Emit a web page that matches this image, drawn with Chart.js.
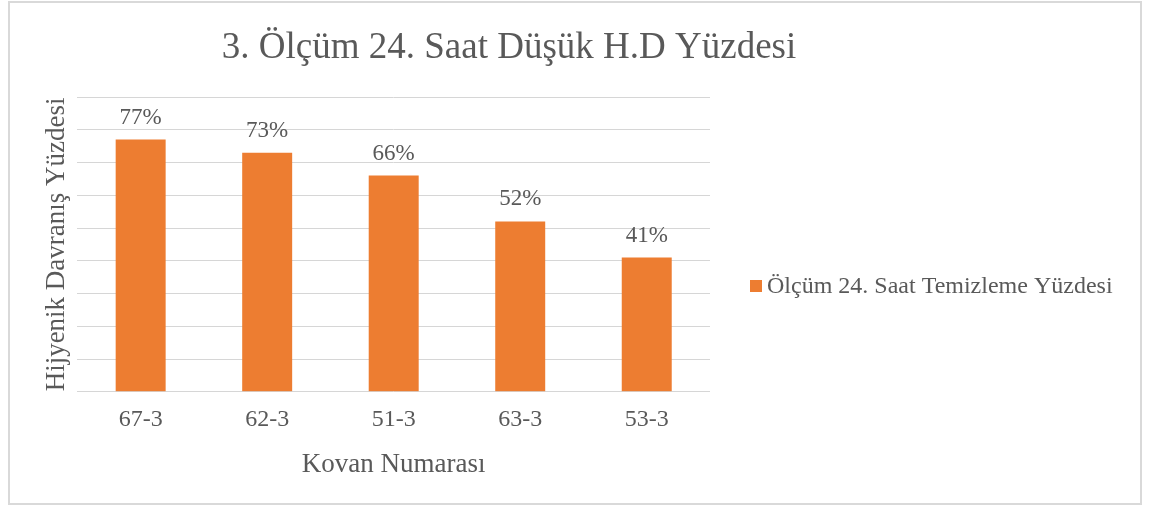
<!DOCTYPE html>
<html>
<head>
<meta charset="utf-8">
<title>3. Ölçüm 24. Saat Düşük H.D Yüzdesi</title>
<script src="https://cdn.jsdelivr.net/npm/chart.js@4/dist/chart.umd.min.js"></script>
<style>
  html, body { margin: 0; padding: 0; background: #fff; }
  #wrap { position: relative; width: 1154px; height: 506px; }
  #frame {
    position: absolute; left: 8px; top: 1px; width: 1130px; height: 500px;
    border: 2px solid #d9d9d9; pointer-events: none;
  }
</style>
</head>
<body>
<div id="wrap">
  <canvas id="chart" width="1154" height="506"></canvas>
  <div id="frame"></div>
</div>
<script>
// Chart data
const chartTitle = '3. Ölçüm 24. Saat Düşük H.D Yüzdesi';
const seriesName = 'Ölçüm 24. Saat Temizleme Yüzdesi';
const hives = ['67-3', '62-3', '51-3', '63-3', '53-3'];
const cleaningPct = [77, 73, 66, 52, 41];
const xTitle = 'Kovan Numarası';
const yTitle = 'Hijyenik Davranış Yüzdesi';

const barColor = '#ED7D31';
const textColor = '#595959';
const gridColor = '#d6d6d6';
const fontFamily = '"Liberation Serif", "Times New Roman", serif';

// Draws the title, the data labels and the legend on the right
const extrasPlugin = {
  id: 'extras',
  afterDatasetsDraw(chart) {
    const ctx = chart.ctx;
    ctx.save();
    ctx.fillStyle = textColor;

    // title
    ctx.font = '37px ' + fontFamily;
    ctx.textAlign = 'center';
    ctx.textBaseline = 'alphabetic';
    ctx.fillText(chartTitle, 509, 58);

    // value labels above bars
    ctx.font = '23px ' + fontFamily;
    const meta = chart.getDatasetMeta(0);
    meta.data.forEach((bar, i) => {
      ctx.fillText(cleaningPct[i] + '%', bar.x, bar.y - 16);
    });

    // legend
    ctx.fillStyle = barColor;
    ctx.fillRect(750, 280, 12, 12);
    ctx.fillStyle = textColor;
    ctx.font = '24px ' + fontFamily;
    ctx.textAlign = 'left';
    ctx.fillText(seriesName, 767, 293);
    ctx.restore();
  }
};

const ctx = document.getElementById('chart').getContext('2d');
const chart = new Chart(ctx, {
  type: 'bar',
  data: {
    labels: hives,
    datasets: [{
      label: seriesName,
      data: cleaningPct,
      backgroundColor: barColor,
      barPercentage: 0.395,
      categoryPercentage: 1
    }]
  },
  options: {
    responsive: false,
    animation: false,
    layout: {
      padding: { top: 97, left: 37, right: 444, bottom: 25 }
    },
    plugins: {
      legend: { display: false },
      title: { display: false },
      tooltip: { enabled: false }
    },
    scales: {
      x: {
        grid: { display: false, drawTicks: false },
        border: { display: false },
        ticks: {
          color: textColor,
          padding: 14,
          font: { family: fontFamily, size: 24 }
        },
        title: {
          display: true,
          text: xTitle,
          color: textColor,
          padding: { top: 0, bottom: 0 },
          font: { family: fontFamily, size: 27 }
        }
      },
      y: {
        min: 0,
        max: 90,
        ticks: { display: false, stepSize: 10 },
        grid: { color: gridColor, lineWidth: 1, drawTicks: false },
        border: { display: false },
        title: {
          display: true,
          text: yTitle,
          color: textColor,
          padding: { top: 4, bottom: 4 },
          font: { family: fontFamily, size: 27 }
        }
      }
    }
  },
  plugins: [extrasPlugin]
});
</script>
</body>
</html>
